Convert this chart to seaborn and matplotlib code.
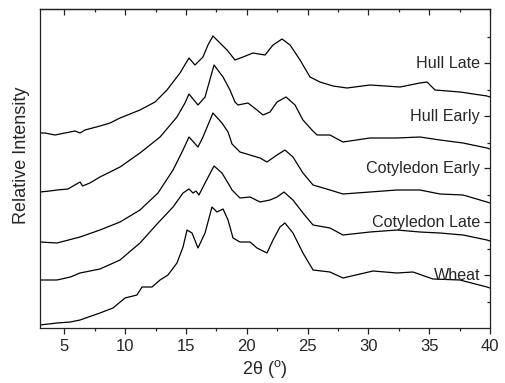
import matplotlib
matplotlib.use("Agg")
import matplotlib.pyplot as plt
import matplotlib.transforms as mtransforms
from matplotlib.ticker import MultipleLocator
import pandas as pd
import seaborn as sns

# ---- data (2theta in degrees, relative intensity, traces already stacked) ----
names = ["Hull Late", "Hull Early", "Cotyledon Early", "Cotyledon Late", "Wheat"]
label_levels = [265, 212, 160, 106, 53]

hull_late_x = [3.00, 3.41, 4.23, 5.05, 5.88, 6.29, 6.70, 7.93, 8.76, 9.58, 10.40, 11.22,
               12.46, 13.44, 14.51, 15.25, 15.74, 16.40, 16.81, 17.22, 17.96, 18.38, 19.03,
               19.69, 20.51, 21.50, 22.16, 22.90, 23.56, 24.38, 25.20, 26.02, 27.09, 28.24,
               30.13, 32.60, 34.24, 34.82, 35.48, 37.53, 39.75, 40.00]
hull_late_y = [195, 195, 193, 195, 197, 195, 198, 202, 205, 210, 214, 218,
               226, 238, 255, 270, 263, 271, 283, 292, 283, 278, 268,
               271, 275, 273, 283, 289, 283, 268, 251, 246, 242, 240,
               243, 241, 245, 246, 238, 236, 232, 231]

hull_early_x = [3.00, 3.80, 4.40, 5.30, 6.29, 6.50, 7.10, 7.93, 9.58, 11.22, 12.87, 14.26,
                14.92, 15.25, 15.99, 16.57, 17.31, 18.05, 18.62, 19.03, 19.28, 20.10, 20.84,
                21.34, 21.91, 22.49, 23.23, 23.97, 24.62, 25.36, 25.78, 26.84, 27.91, 30.13,
                32.35, 34.24, 35.89, 37.78, 39.75, 40.00]
hull_early_y = [136, 137, 138, 139, 146, 142, 145, 151, 161, 175, 191, 211,
                225, 234, 223, 231, 263, 251, 238, 226, 223, 225, 218,
                213, 216, 226, 231, 223, 208, 198, 193, 193, 186, 190,
                190, 191, 188, 185, 180, 179]

cot_early_x = [3.00, 4.40, 6.29, 7.93, 9.58, 11.22, 12.70, 13.94, 14.76, 15.25, 15.99,
               16.40, 17.22, 17.96, 18.46, 18.79, 19.44, 20.27, 21.09, 21.66, 22.49, 23.14,
               23.80, 24.62, 25.45, 26.84, 27.91, 30.13, 32.35, 34.24, 35.89, 37.78, 39.75,
               40.00]
cot_early_y = [86, 85, 91, 98, 106, 118, 135, 158, 178, 191, 181,
               191, 215, 205, 196, 184, 176, 173, 170, 166, 173, 178,
               171, 155, 143, 138, 134, 136, 138, 138, 134, 133, 126,
               125]

cot_late_x = [3.00, 4.40, 5.50, 6.29, 7.93, 9.58, 11.22, 12.70, 13.94, 14.76, 15.25,
              15.58, 15.83, 16.07, 16.57, 17.31, 17.96, 18.46, 18.79, 19.44, 20.27, 21.09,
              21.91, 22.49, 23.06, 23.80, 24.62, 25.45, 26.84, 27.91, 30.13, 32.35, 34.24,
              35.89, 37.78, 39.75, 40.00]
cot_late_y = [48, 48, 51, 55, 59, 68, 85, 105, 121, 135, 139,
              135, 137, 133, 145, 162, 155, 145, 138, 130, 131, 126,
              128, 131, 136, 128, 115, 103, 100, 93, 96, 98, 96,
              95, 93, 88, 87]

wheat_x = [3.00, 4.40, 5.50, 6.29, 7.93, 9.00, 9.99, 10.97, 11.39, 12.21, 12.87, 13.52,
           14.26, 14.76, 15.09, 15.50, 15.99, 16.57, 17.14, 17.55, 18.05, 18.46, 18.87,
           19.44, 20.27, 20.84, 21.66, 22.16, 22.73, 23.14, 23.80, 24.62, 25.45, 26.84,
           27.91, 30.38, 32.35, 33.67, 35.31, 37.53, 39.75, 40.00]
wheat_y = [3, 5, 6, 8, 15, 20, 30, 33, 41, 41, 48, 53,
           65, 81, 98, 95, 80, 95, 121, 116, 119, 108, 90,
           86, 86, 80, 75, 88, 101, 105, 95, 75, 58, 56,
           50, 57, 55, 56, 49, 48, 41, 40]

series_x = [hull_late_x, hull_early_x, cot_early_x, cot_late_x, wheat_x]
series_y = [hull_late_y, hull_early_y, cot_early_y, cot_late_y, wheat_y]

frames = []
for n, xs, ys in zip(names, series_x, series_y):
    frames.append(pd.DataFrame({"two_theta": xs, "intensity": ys, "sample": n}))
df = pd.concat(frames, ignore_index=True)

# ---- plot ----
sns.set_style("ticks")
plt.rcParams["font.family"] = ["Liberation Sans", "DejaVu Sans"]
plt.rcParams["mathtext.fontset"] = "custom"
plt.rcParams["mathtext.rm"] = "Liberation Sans"

fig = plt.figure(figsize=(5.05, 3.83), dpi=100)
ax = fig.add_axes([40 / 505, 55 / 383, 450 / 505, 319 / 383])

sns.lineplot(data=df, x="two_theta", y="intensity", hue="sample",
             palette={n: "black" for n in names}, estimator=None, sort=False,
             legend=False, linewidth=0.9, ax=ax)

ax.set_xlim(3, 40)
ax.set_ylim(0, 319)

for s in ax.spines.values():
    s.set_linewidth(0.9)
    s.set_color("#222222")

# bottom x axis: outward ticks with labels
ax.xaxis.set_major_locator(MultipleLocator(5))
ax.xaxis.set_minor_locator(MultipleLocator(2.5))
ax.tick_params(axis="x", which="major", direction="out", length=4, width=0.9,
               labelsize=12, pad=4, color="#222222")
ax.tick_params(axis="x", which="minor", direction="out", length=2, width=0.9,
               color="#222222")

# top axis: inward ticks
top = ax.secondary_xaxis("top")
top.xaxis.set_major_locator(MultipleLocator(5))
top.xaxis.set_minor_locator(MultipleLocator(2.5))
top.tick_params(which="major", direction="in", length=4, width=0.9, labeltop=False,
                color="#222222")
top.tick_params(which="minor", direction="in", length=2, width=0.9, color="#222222")
top.spines["top"].set_linewidth(0.9)

# right axis: inward ticks, labels inside the frame
ax.yaxis.tick_right()
ax.set_yticks(label_levels)
ax.set_yticks([l - 26.5 for l in label_levels] + [label_levels[0] + 26.5], minor=True)
ax.tick_params(axis="y", which="major", direction="in", length=4, width=0.9,
               labelright=False, labelleft=False, left=False, right=True, color="#222222")
ax.tick_params(axis="y", which="minor", direction="in", length=2.5, width=0.9,
               left=False, right=True, color="#222222")

trans = mtransforms.blended_transform_factory(ax.transAxes, ax.transData)
for n, lv in zip(names, label_levels):
    ax.text(0.978, lv, n, transform=trans, ha="right", va="center", fontsize=11.6)

ax.set_xlabel("2θ ($^{\\mathrm{o}}$)", fontsize=13, labelpad=3)
ax.set_ylabel("Relative Intensity", fontsize=13)
ax.yaxis.set_label_position("left")
ax.yaxis.set_label_coords(-0.022, 0.54)

fig.savefig("out.png", dpi=100)
